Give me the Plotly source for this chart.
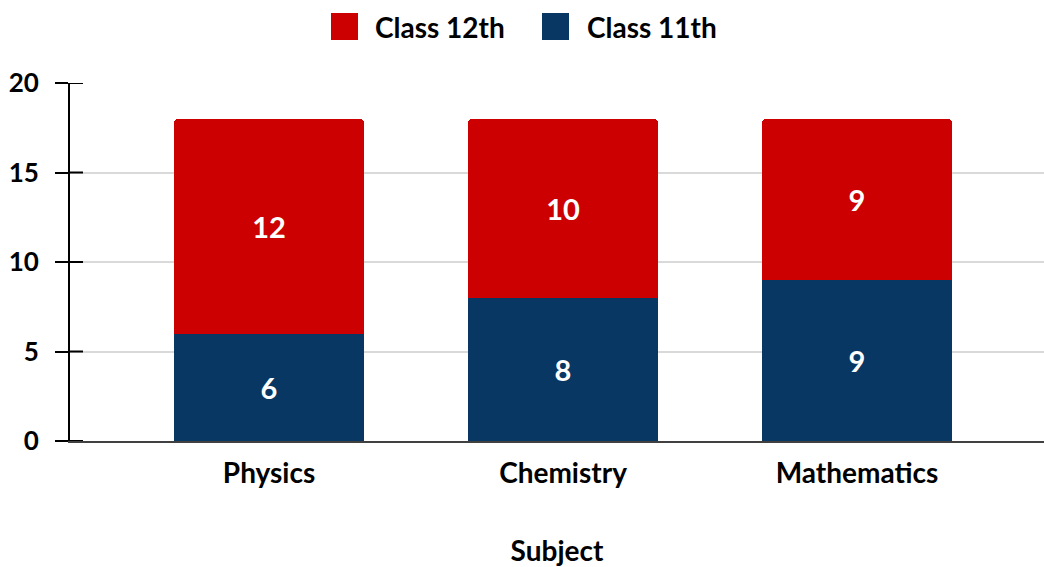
import plotly.graph_objects as go

subjects = ["Physics", "Chemistry", "Mathematics"]
class11 = [6, 8, 9]
class12 = [12, 10, 9]
series_names = ["Class 12th", "Class 11th"]
y_ticks = [0, 5, 10, 15, 20]

RED = "#cc0000"
BLUE = "#083763"
FONT = "Lato"

W, H = 1044, 567
L, R, T, B = 70, 0, 83, 126
PW = W - L - R
PH = H - T - B

fig = go.Figure()
fig.add_trace(go.Bar(
    x=subjects, y=class11, name=series_names[1], marker=dict(color=BLUE, line=dict(width=0)),
    width=0.646, text=[str(v) for v in class11], textposition="inside",
    insidetextanchor="middle", textangle=0,
    textfont=dict(family=FONT, size=29, color="white", weight="bold"),
    showlegend=False, hoverinfo="skip"))
fig.add_trace(go.Bar(
    x=subjects, y=class12, name=series_names[0], marker=dict(color=RED, line=dict(width=0)),
    width=0.646, text=[str(v) for v in class12], textposition="inside",
    insidetextanchor="middle", textangle=0,
    textfont=dict(family=FONT, size=29, color="white", weight="bold"),
    showlegend=False, hoverinfo="skip"))

shapes = []
annotations = []
# inner half of y ticks
for v in y_ticks:
    shapes.append(dict(type="line", xref="x domain", yref="y",
                       x0=0, x1=13 / PW, y0=v, y1=v, line=dict(color="black", width=2),
                       layer="above"))

def px_x(p):
    return (p - L) / PW

def px_y(p):
    return 1 - (p - T) / PH

legend_items = [(series_names[0], RED, 331, 375), (series_names[1], BLUE, 542, 587)]
for name, col, sx, tx in legend_items:
    shapes.append(dict(type="rect", xref="paper", yref="paper",
                       x0=px_x(sx), x1=px_x(sx + 27), y0=px_y(40), y1=px_y(13),
                       fillcolor=col, line=dict(width=0), layer="above"))
    annotations.append(dict(text=name, xref="paper", yref="paper", x=px_x(tx - 2), y=px_y(27),
                            xanchor="left", yanchor="middle", showarrow=False,
                            font=dict(family=FONT, size=28, color="black", weight="bold")))

fig.update_layout(
    width=W, height=H,
    margin=dict(l=L, r=R, t=T, b=B, pad=0),
    paper_bgcolor="white", plot_bgcolor="white",
    barmode="stack", barcornerradius=4,
    font=dict(family=FONT, color="black"),
    shapes=shapes, annotations=annotations,
    xaxis=dict(range=[-0.677, 2.636], showgrid=False, showline=True, linecolor="#404040",
               linewidth=2, ticks="", ticklabelstandoff=6,
               tickfont=dict(family=FONT, size=28, color="black", weight="bold"),
               title=dict(text="Subject", standoff=56,
                          font=dict(family=FONT, size=28, color="black", weight="bold")),
               fixedrange=True),
    yaxis=dict(range=[0, 20], tickvals=y_ticks, showgrid=True, gridcolor="#d9d9d9", gridwidth=2,
               showline=True, linecolor="black", linewidth=2, ticks="outside", ticklen=13,
               tickwidth=2, tickcolor="black", ticklabelstandoff=11, zeroline=False,
               tickfont=dict(family=FONT, size=26, color="black", weight="bold"),
               fixedrange=True),
)

fig.write_html("out.html", config={"displayModeBar": False},
               post_script="document.body.style.margin='0px';document.body.style.overflow='hidden';")
